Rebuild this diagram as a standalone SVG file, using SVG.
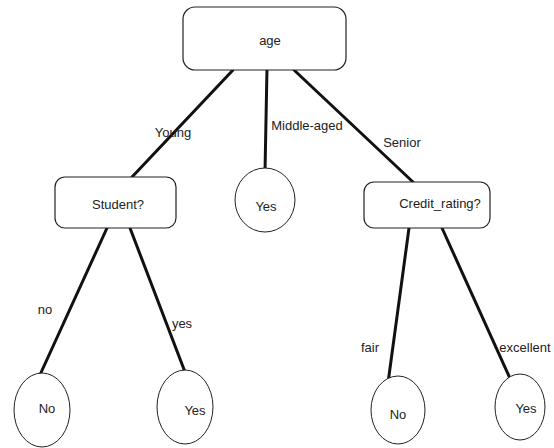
<svg xmlns="http://www.w3.org/2000/svg" width="554" height="448" viewBox="0 0 554 448">
<style>
.box{fill:#fff;stroke:#222;stroke-width:1.2}
.leaf{fill:#fff;stroke:#222;stroke-width:1}
.edge{stroke:#111;stroke-width:3;stroke-linecap:round;fill:none}
text{font-family:"Liberation Sans",Arial,sans-serif;font-size:13px;fill:#222}
.c{text-anchor:middle}
</style>
<rect width="554" height="448" fill="#fff"/>
<g id="connectors">
<line class="edge" x1="233" y1="70" x2="132" y2="177"/>
<line class="edge" x1="267" y1="68" x2="265" y2="172"/>
<line class="edge" x1="294" y1="70" x2="413" y2="182"/>
<line class="edge" x1="107" y1="228" x2="39" y2="377"/>
<line class="edge" x1="130" y1="228" x2="185" y2="372"/>
<line class="edge" x1="409" y1="228" x2="388" y2="383"/>
<line class="edge" x1="442" y1="228" x2="513" y2="385"/>
<text x="173" y="137" class="c">Young</text>
<text x="307" y="130" class="c">Middle-aged</text>
<text x="402" y="147" class="c">Senior</text>
<text x="45" y="314" class="c">no</text>
<text x="182" y="328" class="c">yes</text>
<text x="370" y="352" class="c">fair</text>
<text x="525" y="352" class="c">excellent</text>
</g>
<g id="age">
<rect class="box" x="183" y="7" width="163" height="63" rx="12"/>
<text x="270" y="45" class="c">age</text>
</g>
<g id="student">
<rect class="box" x="55" y="177" width="121" height="51" rx="10"/>
<text x="118" y="209" class="c">Student?</text>
</g>
<g id="yes-mid">
<ellipse class="leaf" cx="265" cy="200" rx="30" ry="32"/>
<text x="266" y="211" class="c">Yes</text>
</g>
<g id="credit">
<rect class="box" x="364" y="182" width="126" height="46" rx="10"/>
<text x="440" y="208" class="c">Credit_rating?</text>
</g>
<g id="no-left">
<ellipse class="leaf" cx="42" cy="410" rx="28" ry="37"/>
<text x="47" y="413" class="c">No</text>
</g>
<g id="yes-left">
<ellipse class="leaf" cx="185" cy="407" rx="28" ry="37"/>
<text x="195" y="415" class="c">Yes</text>
</g>
<g id="no-right">
<ellipse class="leaf" cx="398" cy="410" rx="27" ry="34"/>
<text x="398" y="419" class="c">No</text>
</g>
<g id="yes-right">
<ellipse class="leaf" cx="520" cy="407" rx="25" ry="33"/>
<text x="526" y="413" class="c">Yes</text>
</g>
</svg>
